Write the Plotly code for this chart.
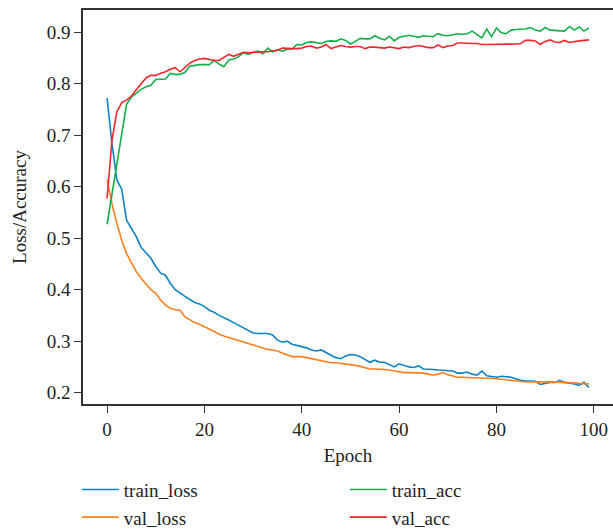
import plotly.graph_objects as go

epochs = list(range(100))

train_loss = [0.772, 0.684, 0.613, 0.595, 0.535, 0.519, 0.503, 0.482, 0.471, 0.461,
              0.445, 0.432, 0.428, 0.412, 0.400, 0.393, 0.387, 0.381, 0.375, 0.372,
              0.367, 0.360, 0.356, 0.350, 0.346, 0.341, 0.336, 0.331, 0.325, 0.320,
              0.316, 0.315, 0.315, 0.315, 0.312, 0.302, 0.298, 0.300, 0.294, 0.292,
              0.289, 0.287, 0.283, 0.281, 0.283, 0.278, 0.273, 0.268, 0.266, 0.271,
              0.274, 0.273, 0.270, 0.265, 0.259, 0.263, 0.259, 0.259, 0.254, 0.250,
              0.256, 0.253, 0.250, 0.249, 0.252, 0.246, 0.246, 0.245, 0.244, 0.243,
              0.242, 0.242, 0.238, 0.238, 0.240, 0.236, 0.234, 0.242, 0.233, 0.231,
              0.230, 0.232, 0.231, 0.230, 0.227, 0.224, 0.223, 0.223, 0.222, 0.216,
              0.218, 0.220, 0.220, 0.224, 0.220, 0.219, 0.217, 0.214, 0.220, 0.210]

val_loss = [0.614, 0.567, 0.529, 0.496, 0.470, 0.452, 0.435, 0.422, 0.410, 0.400,
            0.393, 0.380, 0.370, 0.364, 0.361, 0.360, 0.347, 0.341, 0.336, 0.333,
            0.328, 0.323, 0.318, 0.314, 0.310, 0.307, 0.304, 0.301, 0.298, 0.295,
            0.292, 0.289, 0.286, 0.284, 0.283, 0.281, 0.277, 0.273, 0.270, 0.270,
            0.270, 0.268, 0.266, 0.264, 0.262, 0.259, 0.258, 0.258, 0.257, 0.256,
            0.255, 0.253, 0.251, 0.249, 0.246, 0.246, 0.246, 0.245, 0.244, 0.242,
            0.240, 0.239, 0.239, 0.239, 0.239, 0.238, 0.236, 0.234, 0.236, 0.239,
            0.235, 0.232, 0.230, 0.230, 0.229, 0.229, 0.229, 0.228, 0.228, 0.228,
            0.227, 0.226, 0.224, 0.224, 0.223, 0.222, 0.221, 0.221, 0.221, 0.221,
            0.222, 0.222, 0.221, 0.220, 0.220, 0.219, 0.219, 0.218, 0.218, 0.217]

train_acc = [0.527, 0.585, 0.645, 0.705, 0.760, 0.774, 0.782, 0.789, 0.794, 0.797,
             0.808, 0.808, 0.809, 0.820, 0.818, 0.818, 0.822, 0.834, 0.836, 0.837,
             0.837, 0.837, 0.845, 0.838, 0.833, 0.846, 0.848, 0.852, 0.860, 0.857,
             0.861, 0.863, 0.858, 0.869, 0.862, 0.866, 0.863, 0.867, 0.867, 0.876,
             0.875, 0.880, 0.881, 0.879, 0.878, 0.882, 0.883, 0.882, 0.887, 0.884,
             0.877, 0.882, 0.888, 0.887, 0.887, 0.893, 0.888, 0.885, 0.892, 0.883,
             0.890, 0.892, 0.894, 0.892, 0.890, 0.893, 0.892, 0.891, 0.897, 0.894,
             0.893, 0.895, 0.897, 0.896, 0.897, 0.902, 0.896, 0.889, 0.906, 0.891,
             0.908, 0.899, 0.897, 0.904, 0.905, 0.905, 0.906, 0.909, 0.904, 0.902,
             0.909, 0.904, 0.903, 0.902, 0.902, 0.911, 0.904, 0.910, 0.902, 0.908]

val_acc = [0.577, 0.690, 0.745, 0.763, 0.768, 0.776, 0.788, 0.800, 0.811, 0.816,
           0.816, 0.820, 0.823, 0.828, 0.831, 0.823, 0.832, 0.840, 0.845, 0.848,
           0.849, 0.847, 0.845, 0.845, 0.851, 0.857, 0.853, 0.857, 0.861, 0.860,
           0.861, 0.861, 0.862, 0.862, 0.864, 0.865, 0.869, 0.868, 0.868, 0.868,
           0.869, 0.872, 0.873, 0.869, 0.871, 0.876, 0.868, 0.871, 0.874, 0.872,
           0.871, 0.872, 0.872, 0.868, 0.871, 0.871, 0.870, 0.869, 0.871, 0.869,
           0.868, 0.871, 0.870, 0.872, 0.874, 0.872, 0.870, 0.870, 0.875, 0.870,
           0.873, 0.874, 0.879, 0.879, 0.878, 0.878, 0.878, 0.876, 0.876, 0.876,
           0.876, 0.876, 0.876, 0.877, 0.877, 0.878, 0.884, 0.884, 0.883, 0.876,
           0.882, 0.885, 0.881, 0.880, 0.884, 0.880, 0.882, 0.883, 0.884, 0.885]

series = [
    ("train_loss", train_loss, "#0a84c6", 1),
    ("val_loss", val_loss, "#ff7f1e", 3),
    ("train_acc", train_acc, "#14ae4a", 2),
    ("val_acc", val_acc, "#f2262c", 4),
]

x_ticks = [0, 20, 40, 60, 80, 100]
y_ticks = [0.2, 0.3, 0.4, 0.5, 0.6, 0.7, 0.8, 0.9]

FONT = "Liberation Serif, Times New Roman, serif"

fig = go.Figure()
for name, vals, color, rank in series:
    fig.add_trace(go.Scatter(x=epochs, y=vals, mode="lines", name=name,
                             line=dict(color=color, width=1.6),
                             legendrank=rank))

fig.update_layout(
    width=613, height=532,
    margin=dict(l=83, r=0, t=10, b=128, autoexpand=False),
    paper_bgcolor="white", plot_bgcolor="white",
    font=dict(family=FONT, size=19, color="#222"),
    showlegend=True,
    legend=dict(orientation="h", x=-0.0117, xanchor="left", y=-0.169, yanchor="top",
                entrywidth=216, entrywidthmode="pixels",
                font=dict(family=FONT, size=19, color="#222"),
                traceorder="normal", itemwidth=37),
)
fig.update_xaxes(
    range=[-4.95, 103.95], tickvals=x_ticks, ticks="outside", ticklen=7,
    tickcolor="#333", tickwidth=1.3, showline=True, linecolor="#333", linewidth=1.5,
    mirror=True, showgrid=False, zeroline=False, automargin=False,
    title=dict(text="Epoch", font=dict(family=FONT, size=19), standoff=10),
)
fig.update_yaxes(
    range=[0.178, 0.943], tickvals=y_ticks, tickformat=".1f", ticks="outside",
    ticklen=7, tickcolor="#333", tickwidth=1.3, showline=True, linecolor="#333",
    linewidth=1.5, showgrid=False, zeroline=False, automargin=False,
    title=dict(text="Loss/Accuracy", font=dict(family=FONT, size=19)),
)

fig.write_html("out.html", config={"displayModeBar": False},
               post_script="document.body.style.margin='0';document.body.style.padding='0';")
